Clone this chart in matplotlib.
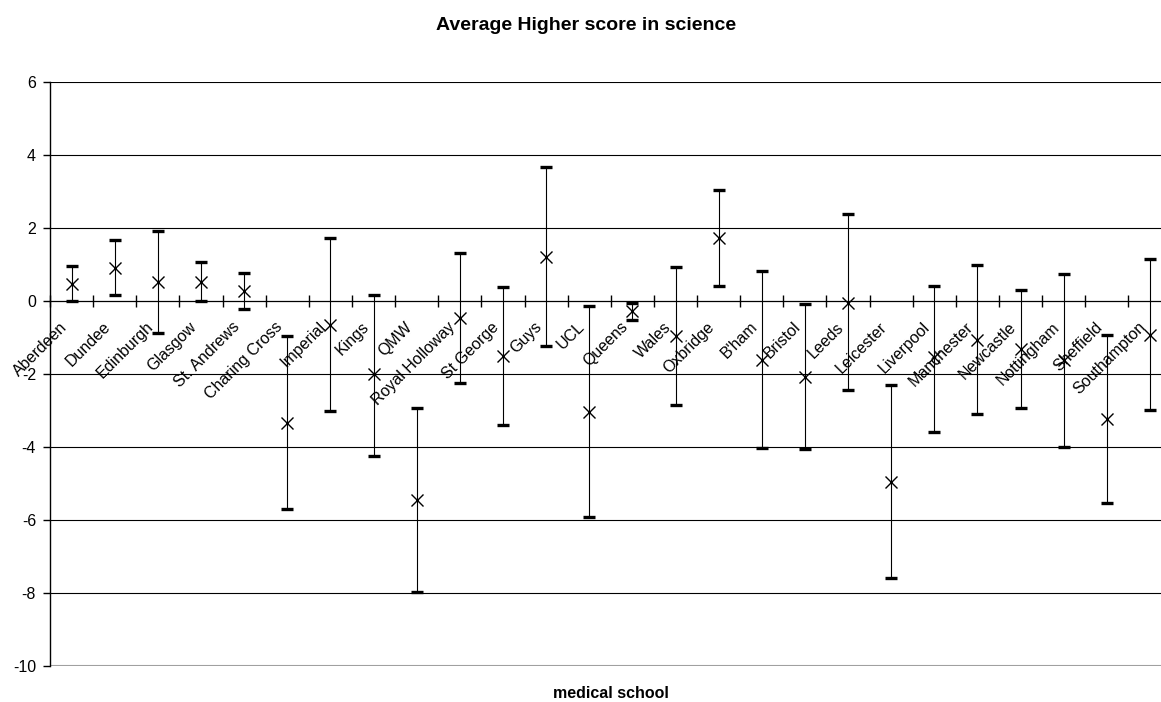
#!/usr/bin/env python3
"""Average Higher score in science by medical school: mean with error bars."""

import matplotlib
matplotlib.use('Agg')
import matplotlib.pyplot as plt
import matplotlib.transforms as mtransforms
from matplotlib.ticker import FixedLocator

plt.rcParams['font.family'] = ['Liberation Sans', 'DejaVu Sans']

schools = ['Aberdeen', 'Dundee', 'Edinburgh', 'Glasgow', 'St. Andrews',
           'Charing Cross', 'Imperial', 'Kings', 'QMW', 'Royal Holloway',
           'St George', 'Guys', 'UCL', 'Queens', 'Wales', 'Oxbridge', "B'ham",
           'Bristol', 'Leeds', 'Leicester', 'Liverpool', 'Manchester',
           'Newcastle', 'Nottingham', 'Sheffield', 'Southampton']

mean = [0.46, 0.91, 0.51, 0.52, 0.27, -3.34, -0.67, -2.01, -5.44, -0.46,
        -1.50, 1.21, -3.04, -0.27, -0.95, 1.73, -1.62, -2.08, -0.05, -4.97,
        -1.53, -1.06, -1.31, -1.63, -3.24, -0.94]
upper = [0.96, 1.66, 1.92, 1.07, 0.77, -0.97, 1.73, 0.17, -2.92, 1.32,
         0.39, 3.67, -0.13, -0.06, 0.94, 3.04, 0.82, -0.09, 2.37, -2.31,
         0.41, 0.99, 0.29, 0.73, -0.93, 1.14]
lower = [0.0, 0.17, -0.89, 0.0, -0.21, -5.69, -3.02, -4.24, -7.97, -2.24,
         -3.39, -1.23, -5.93, -0.52, -2.85, 0.42, -4.04, -4.06, -2.45, -7.60,
         -3.59, -3.10, -2.92, -4.00, -5.53, -2.99]

yticks = list(range(-10, 7, 2))

W, H = 1161, 702
fig = plt.figure(figsize=(W / 100, H / 100), dpi=100)
fig.patch.set_facecolor('white')

# plot area runs past the right edge, like the cropped original
ax = fig.add_axes([50 / W, 36 / H, 1121.6 / W, 584 / H])

x = list(range(len(schools)))
err_lo = [m - lo for m, lo in zip(mean, lower)]
err_hi = [up - m for m, up in zip(mean, upper)]

for y in yticks[1:]:
    if y != 0:
        ax.axhline(y, color='black', linewidth=0.8, zorder=1)
ax.axhline(-10, color='#a0a0a0', linewidth=1.5, zorder=1)

ax.errorbar(x, mean, yerr=[err_lo, err_hi], fmt='none', ecolor='black',
            elinewidth=0.8, capsize=4, capthick=2.4, zorder=3)
ax.plot(x, mean, linestyle='none', marker='x', color='black',
        markersize=8, markeredgewidth=1.0, zorder=4)

ax.set_xlim(-0.5, len(schools) - 0.5)
ax.set_ylim(-10, 6)

ax.spines['top'].set_visible(False)
ax.spines['right'].set_visible(False)
ax.spines['bottom'].set_position(('data', 0))
ax.spines['bottom'].set_linewidth(0.9)
ax.spines['left'].set_linewidth(1.0)

ax.set_yticks(yticks)
ax.set_yticklabels([str(v) for v in yticks])
ax.tick_params(axis='y', direction='out', length=5, width=1, pad=5,
               labelsize=11.5)

ax.xaxis.set_major_locator(FixedLocator([i + 0.5 for i in range(-1, len(schools))]))
ax.xaxis.set_major_formatter(plt.NullFormatter())
ax.set_xticks(x, minor=True)
ax.set_xticklabels(schools, minor=True, rotation=45, ha='right',
                   va='center', rotation_mode='anchor', fontsize=11.5)
ax.tick_params(axis='x', which='major', direction='inout', length=8, width=1)
ax.tick_params(axis='x', which='minor', length=0, pad=17)

shift = mtransforms.ScaledTranslation(-7 / 100, 0, fig.dpi_scale_trans)
for lab in ax.get_xticklabels(minor=True):
    lab.set_transform(lab.get_transform() + shift)

fig.text(585.8 / W, 1 - 26 / H, 'Average Higher score in science',
         ha='center', va='center', fontsize=14, fontweight='bold')
fig.text(610.8 / W, 8 / H, 'medical school', ha='center', va='center',
         fontsize=11.5, fontweight='bold')

fig.savefig('out.png', dpi=100)
